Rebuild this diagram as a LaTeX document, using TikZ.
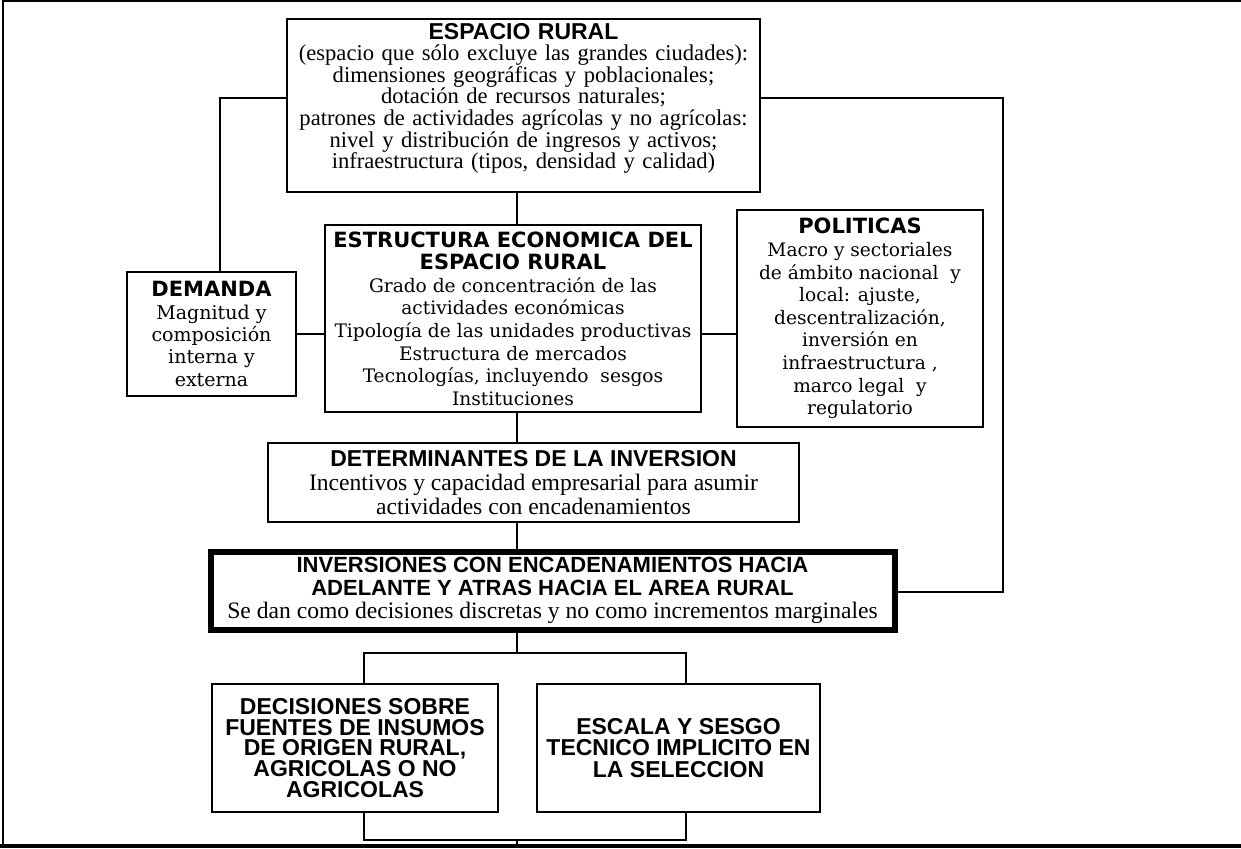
\documentclass[tikz,border=0pt]{standalone}
\usepackage{fontspec}
\setmainfont{Liberation Serif}
\setsansfont{Liberation Sans}
\newfontfamily\anchaserif{DejaVu Serif}
\newfontfamily\anchasans{DejaVu Sans}
\usepackage{tikz}
\usetikzlibrary{positioning}

\newcommand{\tita}{\anchasans\bfseries\fontsize{10.5}{11.2}\selectfont}
\newcommand{\titb}{\sffamily\bfseries\fontsize{11.5}{11}\selectfont}

\begin{document}
\begin{tikzpicture}[x=0.5pt,y=-0.5pt,
  caja/.style={draw, line width=0.8pt, align=center, inner sep=0pt},
  ancha/.style={font=\anchaserif\fontsize{9.3}{11.3}\selectfont},
  estrecha/.style={font=\rmfamily\fontsize{11.3}{10.8}\selectfont},
  linea/.style={line width=0.75pt}]

\useasboundingbox (0,0) rectangle (1241,848);

% marco
\draw[line width=0.6pt] (3,848) -- (3,1) -- (1241,1);
\draw[line width=2pt] (0,846) -- (1241,846);

\node[caja, estrecha, text width=250pt, inner xsep=-6.75pt, inner ysep=1pt, text height=9pt, text depth=75.5pt] (espacio) at (523.5,105.5) {{\titb ESPACIO RURAL}\\
(espacio que sólo excluye las grandes ciudades):\\
dimensiones geográficas y poblacionales;\\
dotación de recursos naturales;\\
patrones de actividades agrícolas y no agrícolas:\\
nivel y distribución de ingresos y activos;\\
infraestructura (tipos, densidad y calidad)};

\node[caja, ancha, font=\anchaserif\fontsize{9.5}{11.2}\selectfont, minimum width=84.5pt, minimum height=62pt] (demanda) at (211.5,334) {{\tita DEMANDA}\\ Magnitud y\\ composición\\ interna y\\ externa};
\node[caja, ancha, minimum width=188pt, minimum height=93.5pt] (estructura) at (513,318.5) {{\tita ESTRUCTURA ECONOMICA DEL}\\ {\tita ESPACIO RURAL}\\
Grado de concentración de las\\ actividades económicas\\ Tipología de las unidades productivas\\ Estructura de mercados\\ Tecnologías, incluyendo\ \ sesgos\\ Instituciones};
\node[caja, ancha, minimum width=123pt, minimum height=108.5pt] (politicas) at (860,318.5) {{\tita POLITICAS}\\ Macro y sectoriales\\ de ámbito nacional\ \ y\\ local: ajuste,\\ descentralización,\\ inversión en\\ infraestructura ,\\ marco legal\ \ y\\ regulatorio};

\node[caja, font=\rmfamily\fontsize{11.8}{12}\selectfont, minimum width=265.5pt, minimum height=39.5pt] (determinantes) at (533.5,482.5) {{\titb DETERMINANTES DE LA INVERSION}\\ Incentivos y capacidad empresarial para asumir\\ actividades con encadenamientos};
\node[caja, font=\rmfamily\fontsize{11.8}{11.6}\selectfont, line width=3pt, minimum width=342pt, minimum height=39pt] (inversiones) at (552.5,590.5) {{\titb\fontsize{11}{11}\selectfont INVERSIONES CON ENCADENAMIENTOS HACIA}\\ {\titb\fontsize{11}{11}\selectfont ADELANTE Y ATRAS HACIA EL AREA RURAL}\\ Se dan como decisiones discretas y no como incrementos marginales};

\node[caja, font=\titb\fontsize{11.5}{10.3}\selectfont, minimum width=143pt, minimum height=64pt] (insumos) at (355,748) {DECISIONES SOBRE\\ FUENTES DE INSUMOS\\ DE ORIGEN RURAL,\\ AGRICOLAS O NO\\ AGRICOLAS};
\node[caja, font=\titb\fontsize{11.5}{10.8}\selectfont, minimum width=141.5pt, minimum height=64pt] (escala) at (678.5,748) {ESCALA Y SESGO\\ TECNICO IMPLICITO EN\\ LA SELECCION};

\coordinate (eje) at (517,0);
\coordinate (izq) at (220,98);
\coordinate (der) at (1003,98);
\coordinate (retorno) at (1003,592);
\coordinate (ramaizq) at (364,653);
\coordinate (ramader) at (686,653);
\coordinate (baseizq) at (364,840);
\coordinate (baseder) at (686,840);
\coordinate (fondo) at (517,846);

\draw[linea] (eje |- espacio.south) -- (eje |- estructura.north);
\draw[linea] (eje |- estructura.south) -- (eje |- determinantes.north);
\draw[linea] (eje |- determinantes.south) -- (eje |- inversiones.north);
\draw[linea] (izq -| espacio.west) -- (izq) -- (izq |- demanda.north);
\draw[linea] (der -| espacio.east) -- (der) -- (retorno) -- (retorno -| inversiones.east);
\draw[linea] (demanda.east) -- (demanda.east -| estructura.west);
\draw[linea] (demanda.east -| estructura.east) -- (demanda.east -| politicas.west);
\draw[linea] (eje |- inversiones.south) -- (eje |- ramaizq);
\draw[linea] (ramaizq |- insumos.north) -- (ramaizq) -- (ramader) -- (ramader |- escala.north);
\draw[linea] (baseizq |- insumos.south) -- (baseizq) -- (baseder) -- (baseder |- escala.south);
\draw[linea] (eje |- baseizq) -- (fondo);
\end{tikzpicture}
\end{document}
